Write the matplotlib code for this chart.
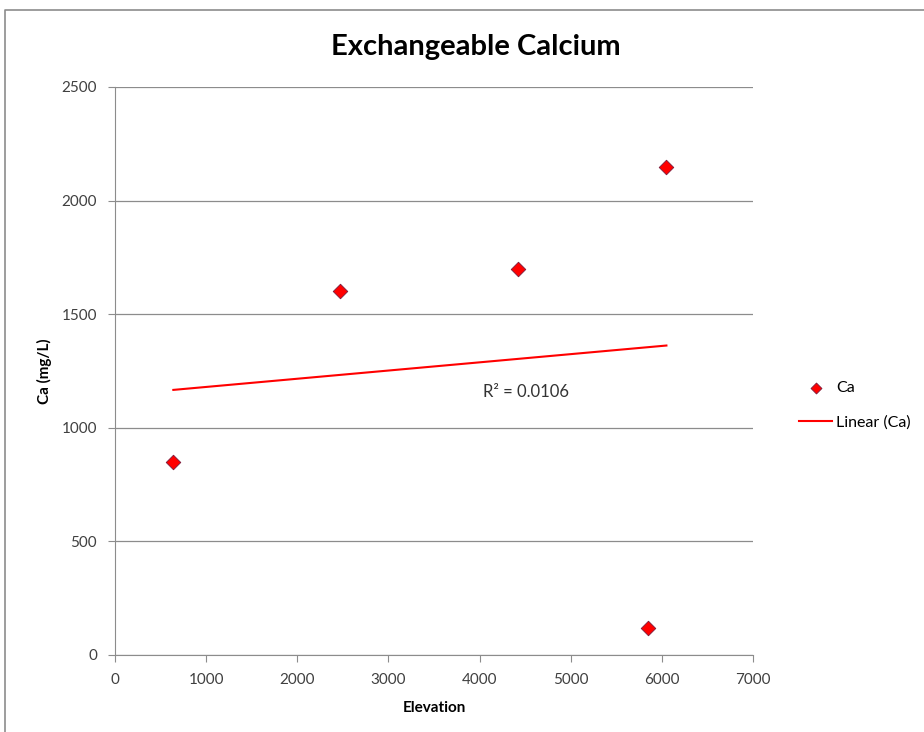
import matplotlib.pyplot as plt
import numpy as np
from matplotlib.lines import Line2D

plt.rcParams['font.family'] = ['Lato', 'DejaVu Sans']

elevation = [640, 2470, 4420, 6050, 5850]
calcium = [850, 1600, 1700, 2150, 120]
r2_label = 'R² = 0.0106'

fig = plt.figure(figsize=(9.24, 7.32), dpi=100)
# chart area border (top and left edges visible)
fig.add_artist(Line2D([5 / 924, 5 / 924, 1.0], [0.0, 1 - 10 / 732, 1 - 10 / 732],
                      transform=fig.transFigure, color='#8c8c8c', linewidth=1.2))
ax = fig.add_axes([115 / 924, 77 / 732, 638 / 924, 568 / 732])

x = np.array(elevation, dtype=float)
y = np.array(calcium, dtype=float)
m, b = np.polyfit(x, y, 1)
xs = np.array([x.min(), x.max()])

ax.scatter(x, y, marker='D', s=55, color='#ff0000', edgecolors='#7a1a3a',
           linewidths=0.6, zorder=3, label='Ca')
ax.plot(xs, m * xs + b, color='#ff0000', linewidth=1.5, zorder=2, label='Linear (Ca)')

ax.set_xlim(0, 7000)
ax.set_ylim(0, 2500)
ax.set_xticks(range(0, 7001, 1000))
ax.set_yticks(range(0, 2501, 500))
ax.yaxis.grid(True, color='#8c8c8c', linewidth=0.9)
ax.set_axisbelow(True)
for s in ['top', 'right']:
    ax.spines[s].set_visible(False)
for s in ['left', 'bottom']:
    ax.spines[s].set_color('#8c8c8c')
ax.tick_params(colors='#8c8c8c', labelcolor='#404040', labelsize=11, length=5)
ax.tick_params(axis='x', pad=8)
ax.tick_params(axis='y', pad=8)

fig.text(476 / 924, 1 - 47 / 732, 'Exchangeable Calcium', fontsize=21,
         fontweight='bold', ha='center', va='center')
ax.set_xlabel('Elevation', fontsize=11, fontweight='bold', labelpad=10)
ax.set_ylabel('Ca (mg/L)', fontsize=11, fontweight='bold', labelpad=7)
ax.text(4040, 1157, r2_label, fontsize=12, color='#333333', va='center')

ax.legend(loc='upper left', bbox_to_anchor=(1.072, 0.483), frameon=False,
          borderaxespad=0, borderpad=0, fontsize=11.5, handlelength=2.1,
          handletextpad=0.25, labelspacing=1.3, markerscale=0.75)

fig.savefig('out.png', dpi=100)
